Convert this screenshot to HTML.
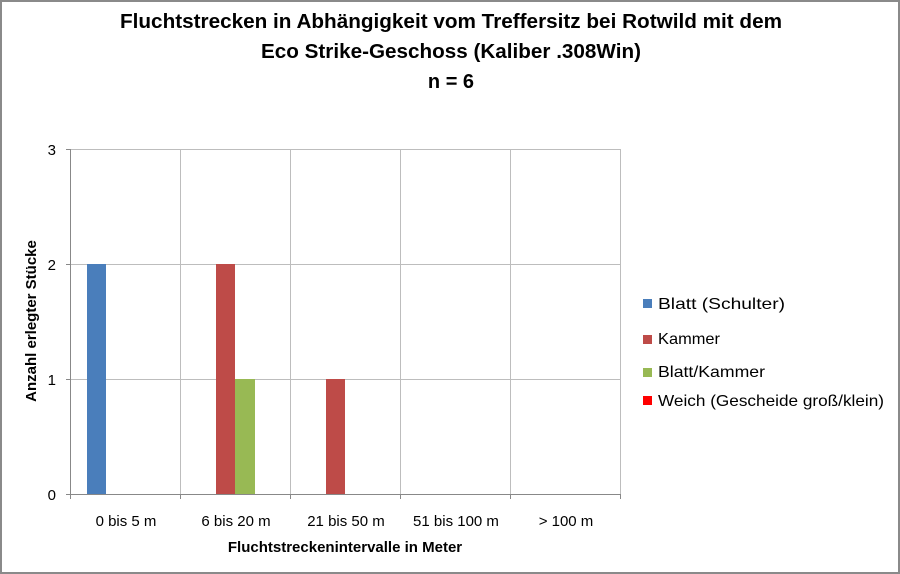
<!DOCTYPE html>
<html><head><style>
html,body{margin:0;padding:0;background:#fff}
svg{display:block}
text{font-family:"Liberation Sans",sans-serif}
</style></head><body>
<svg width="900" height="574" viewBox="0 0 900 574" xmlns="http://www.w3.org/2000/svg">
<rect x="1" y="1" width="898" height="572" fill="#fff" stroke="#8a8a8a" stroke-width="2"/>
<g font-weight="bold" font-size="20" text-anchor="middle" fill="#000">
<text x="451" y="28" textLength="662" lengthAdjust="spacingAndGlyphs">Fluchtstrecken in Abhängigkeit vom Treffersitz bei Rotwild mit dem</text>
<text x="451" y="58" textLength="380" lengthAdjust="spacingAndGlyphs">Eco Strike-Geschoss (Kaliber .308Win)</text>
<text x="451" y="88">n = 6</text>
</g>
<g stroke="#bdbdbd" stroke-width="1">
<line x1="70" y1="149.5" x2="620" y2="149.5"/>
<line x1="70" y1="264.5" x2="620" y2="264.5"/>
<line x1="70" y1="379.5" x2="620" y2="379.5"/>
<line x1="180.5" y1="149" x2="180.5" y2="494"/>
<line x1="290.5" y1="149" x2="290.5" y2="494"/>
<line x1="400.5" y1="149" x2="400.5" y2="494"/>
<line x1="510.5" y1="149" x2="510.5" y2="494"/>
<line x1="620.5" y1="149" x2="620.5" y2="494"/>
</g>
<g stroke="#888" stroke-width="1">
<line x1="70.5" y1="149" x2="70.5" y2="494"/>
<line x1="66" y1="494.5" x2="620" y2="494.5"/>
<line x1="66" y1="149.5" x2="70" y2="149.5"/>
<line x1="66" y1="264.5" x2="70" y2="264.5"/>
<line x1="66" y1="379.5" x2="70" y2="379.5"/>
<line x1="70.5" y1="494" x2="70.5" y2="499"/>
<line x1="180.5" y1="494" x2="180.5" y2="499"/>
<line x1="290.5" y1="494" x2="290.5" y2="499"/>
<line x1="400.5" y1="494" x2="400.5" y2="499"/>
<line x1="510.5" y1="494" x2="510.5" y2="499"/>
<line x1="620.5" y1="494" x2="620.5" y2="499"/>
</g>
<rect x="87" y="264" width="19" height="230" fill="#4a7ebb"/>
<rect x="216" y="264" width="19" height="230" fill="#be4b48"/>
<rect x="235" y="379" width="20" height="115" fill="#98b954"/>
<rect x="326" y="379" width="19" height="115" fill="#be4b48"/>
<g font-size="15" fill="#000" text-anchor="end">
<text x="56" y="155">3</text>
<text x="56" y="270">2</text>
<text x="56" y="385">1</text>
<text x="56" y="500">0</text>
</g>
<g font-size="15" fill="#000" text-anchor="middle">
<text x="126" y="526">0 bis 5 m</text>
<text x="236" y="526">6 bis 20 m</text>
<text x="346" y="526">21 bis 50 m</text>
<text x="456" y="526">51 bis 100 m</text>
<text x="566" y="526">&gt; 100 m</text>
</g>
<text x="345" y="552" font-size="15" font-weight="bold" text-anchor="middle">Fluchtstreckenintervalle in Meter</text>
<text transform="translate(36,321) rotate(-90)" font-size="15" font-weight="bold" text-anchor="middle">Anzahl erlegter Stücke</text>
<g font-size="16" fill="#000">
<rect x="643" y="299" width="9" height="9" fill="#4a7ebb"/><text x="658" y="309" textLength="127" lengthAdjust="spacingAndGlyphs">Blatt (Schulter)</text>
<rect x="643" y="335" width="9" height="9" fill="#be4b48"/><text x="658" y="344" textLength="62" lengthAdjust="spacingAndGlyphs">Kammer</text>
<rect x="643" y="368" width="9" height="9" fill="#98b954"/><text x="658" y="377" textLength="107" lengthAdjust="spacingAndGlyphs">Blatt/Kammer</text>
<rect x="643" y="396" width="9" height="9" fill="#ff0000"/><text x="658" y="406" textLength="226" lengthAdjust="spacingAndGlyphs">Weich (Gescheide groß/klein)</text>
</g>
</svg>
</body></html>
